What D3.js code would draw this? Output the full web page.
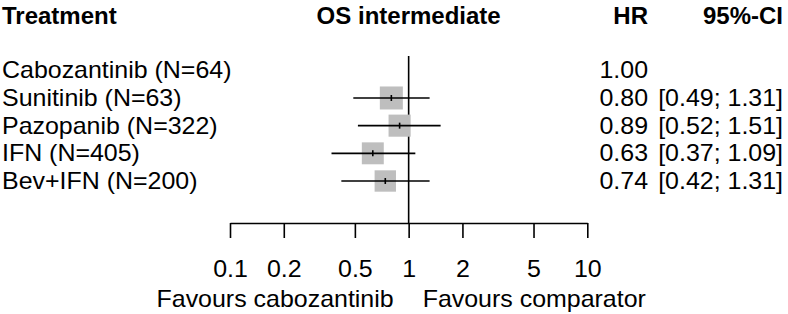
<!DOCTYPE html>
<html>
<head>
<meta charset="utf-8">
<script src="https://cdn.jsdelivr.net/npm/d3@7"></script>
<style>
  html, body { margin: 0; padding: 0; background: #fff; }
  text { font-family: "Liberation Sans", Arial, sans-serif; fill: #000; }
</style>
</head>
<body>
<svg id="chart" width="788" height="314"></svg>
<script>
const treatments = ["Cabozantinib (N=64)", "Sunitinib (N=63)", "Pazopanib (N=322)", "IFN (N=405)", "Bev+IFN (N=200)"];
const hr    = [1.00, 0.80, 0.89, 0.63, 0.74];
const lower = [null, 0.49, 0.52, 0.37, 0.42];
const upper = [null, 1.31, 1.51, 1.09, 1.31];
const hrLabels = ["1.00", "0.80", "0.89", "0.63", "0.74"];
const ciLabels = ["", "[0.49; 1.31]", "[0.52; 1.51]", "[0.37; 1.09]", "[0.42; 1.31]"];
const tickValues = [0.1, 0.2, 0.5, 1, 2, 5, 10];
const tickLabels = ["0.1", "0.2", "0.5", "1", "2", "5", "10"];
const headers = { treatment: "Treatment", title: "OS intermediate", hr: "HR", ci: "95%-CI" };
const favourLeft = "Favours cabozantinib";
const favourRight = "Favours comparator";

const svg = d3.select("#chart");
const FS = 24;
const SX = 1.04; // horizontal glyph stretch of the regular text

const x = d3.scaleLog().domain([0.1, 10]).range([230, 587.3]);
const y = d3.scaleLinear().domain([0, treatments.length - 1]).range([70.3, 181]);

// weights from CI width (inverse variance)
const weights = hr.map((d, i) => lower[i] == null ? 0 :
  1 / Math.pow((Math.log(upper[i]) - Math.log(lower[i])) / (2 * 1.96), 2));
const box = d3.scalePow().exponent(0.25).domain([0, d3.max(weights)]).range([0, 23]);

function txt(parent, tx, ty, s, anchor, bold) {
  return parent.append("text")
    .attr("transform", `translate(${tx},${ty}) scale(${bold ? 1 : SX},1)`)
    .attr("font-size", FS)
    .attr("font-weight", bold ? "bold" : null)
    .attr("text-anchor", anchor || "start")
    .text(s);
}

// headers
txt(svg, 2, 24, headers.treatment, "start", true);
txt(svg, x(1), 24, headers.title, "middle", true);
txt(svg, 648, 24, headers.hr, "end", true);
txt(svg, 783, 24, headers.ci, "end", true);

// row labels
treatments.forEach((d, i) => txt(svg, 2, y(i) + 8, d, "start"));
hrLabels.forEach((d, i) => txt(svg, 648, y(i) + 8, d, "end"));
ciLabels.forEach((d, i) => { if (d) txt(svg, 783, y(i) + 8, d, "end"); });

// axis
const axisY = 223;
const axis = d3.axisBottom(x).tickValues(tickValues)
  .tickFormat((d, i) => tickLabels[i]).tickSize(15).tickSizeOuter(0).tickPadding(22);
const ag = svg.append("g").attr("transform", `translate(0,${axisY})`).call(axis);
ag.select(".domain").attr("stroke", "#000").attr("stroke-width", 1.6);
ag.selectAll(".tick line").attr("stroke", "#000").attr("stroke-width", 1.6);
ag.selectAll(".tick text").attr("font-size", FS)
  .attr("font-family", "Liberation Sans, Arial, sans-serif").attr("fill", "#000")
  .attr("transform", `scale(${SX},1)`);

// reference line at 1
svg.append("line").attr("x1", x(1)).attr("x2", x(1)).attr("y1", 56).attr("y2", axisY)
  .attr("stroke", "#000").attr("stroke-width", 1.6);

// studies
const rows = d3.range(treatments.length).filter(i => lower[i] != null);
const g = svg.append("g");
g.selectAll("rect.box").data(rows).enter().append("rect")
  .attr("class", "box")
  .attr("x", i => x(hr[i]) - box(weights[i]) / 2)
  .attr("y", i => y(i) - box(weights[i]) / 2)
  .attr("width", i => box(weights[i]))
  .attr("height", i => box(weights[i]))
  .attr("fill", "#bebebe");
g.selectAll("line.ci").data(rows).enter().append("line")
  .attr("x1", i => x(lower[i])).attr("x2", i => x(upper[i]))
  .attr("y1", i => y(i)).attr("y2", i => y(i))
  .attr("stroke", "#000").attr("stroke-width", 1.6);
g.selectAll("line.est").data(rows).enter().append("line")
  .attr("x1", i => x(hr[i])).attr("x2", i => x(hr[i]))
  .attr("y1", i => y(i) - 3).attr("y2", i => y(i) + 3)
  .attr("stroke", "#000").attr("stroke-width", 1.6);

// favours labels
txt(svg, x(1) - 15, 307, favourLeft, "end");
txt(svg, x(1) + 14, 307, favourRight, "start");
</script>
</body>
</html>
